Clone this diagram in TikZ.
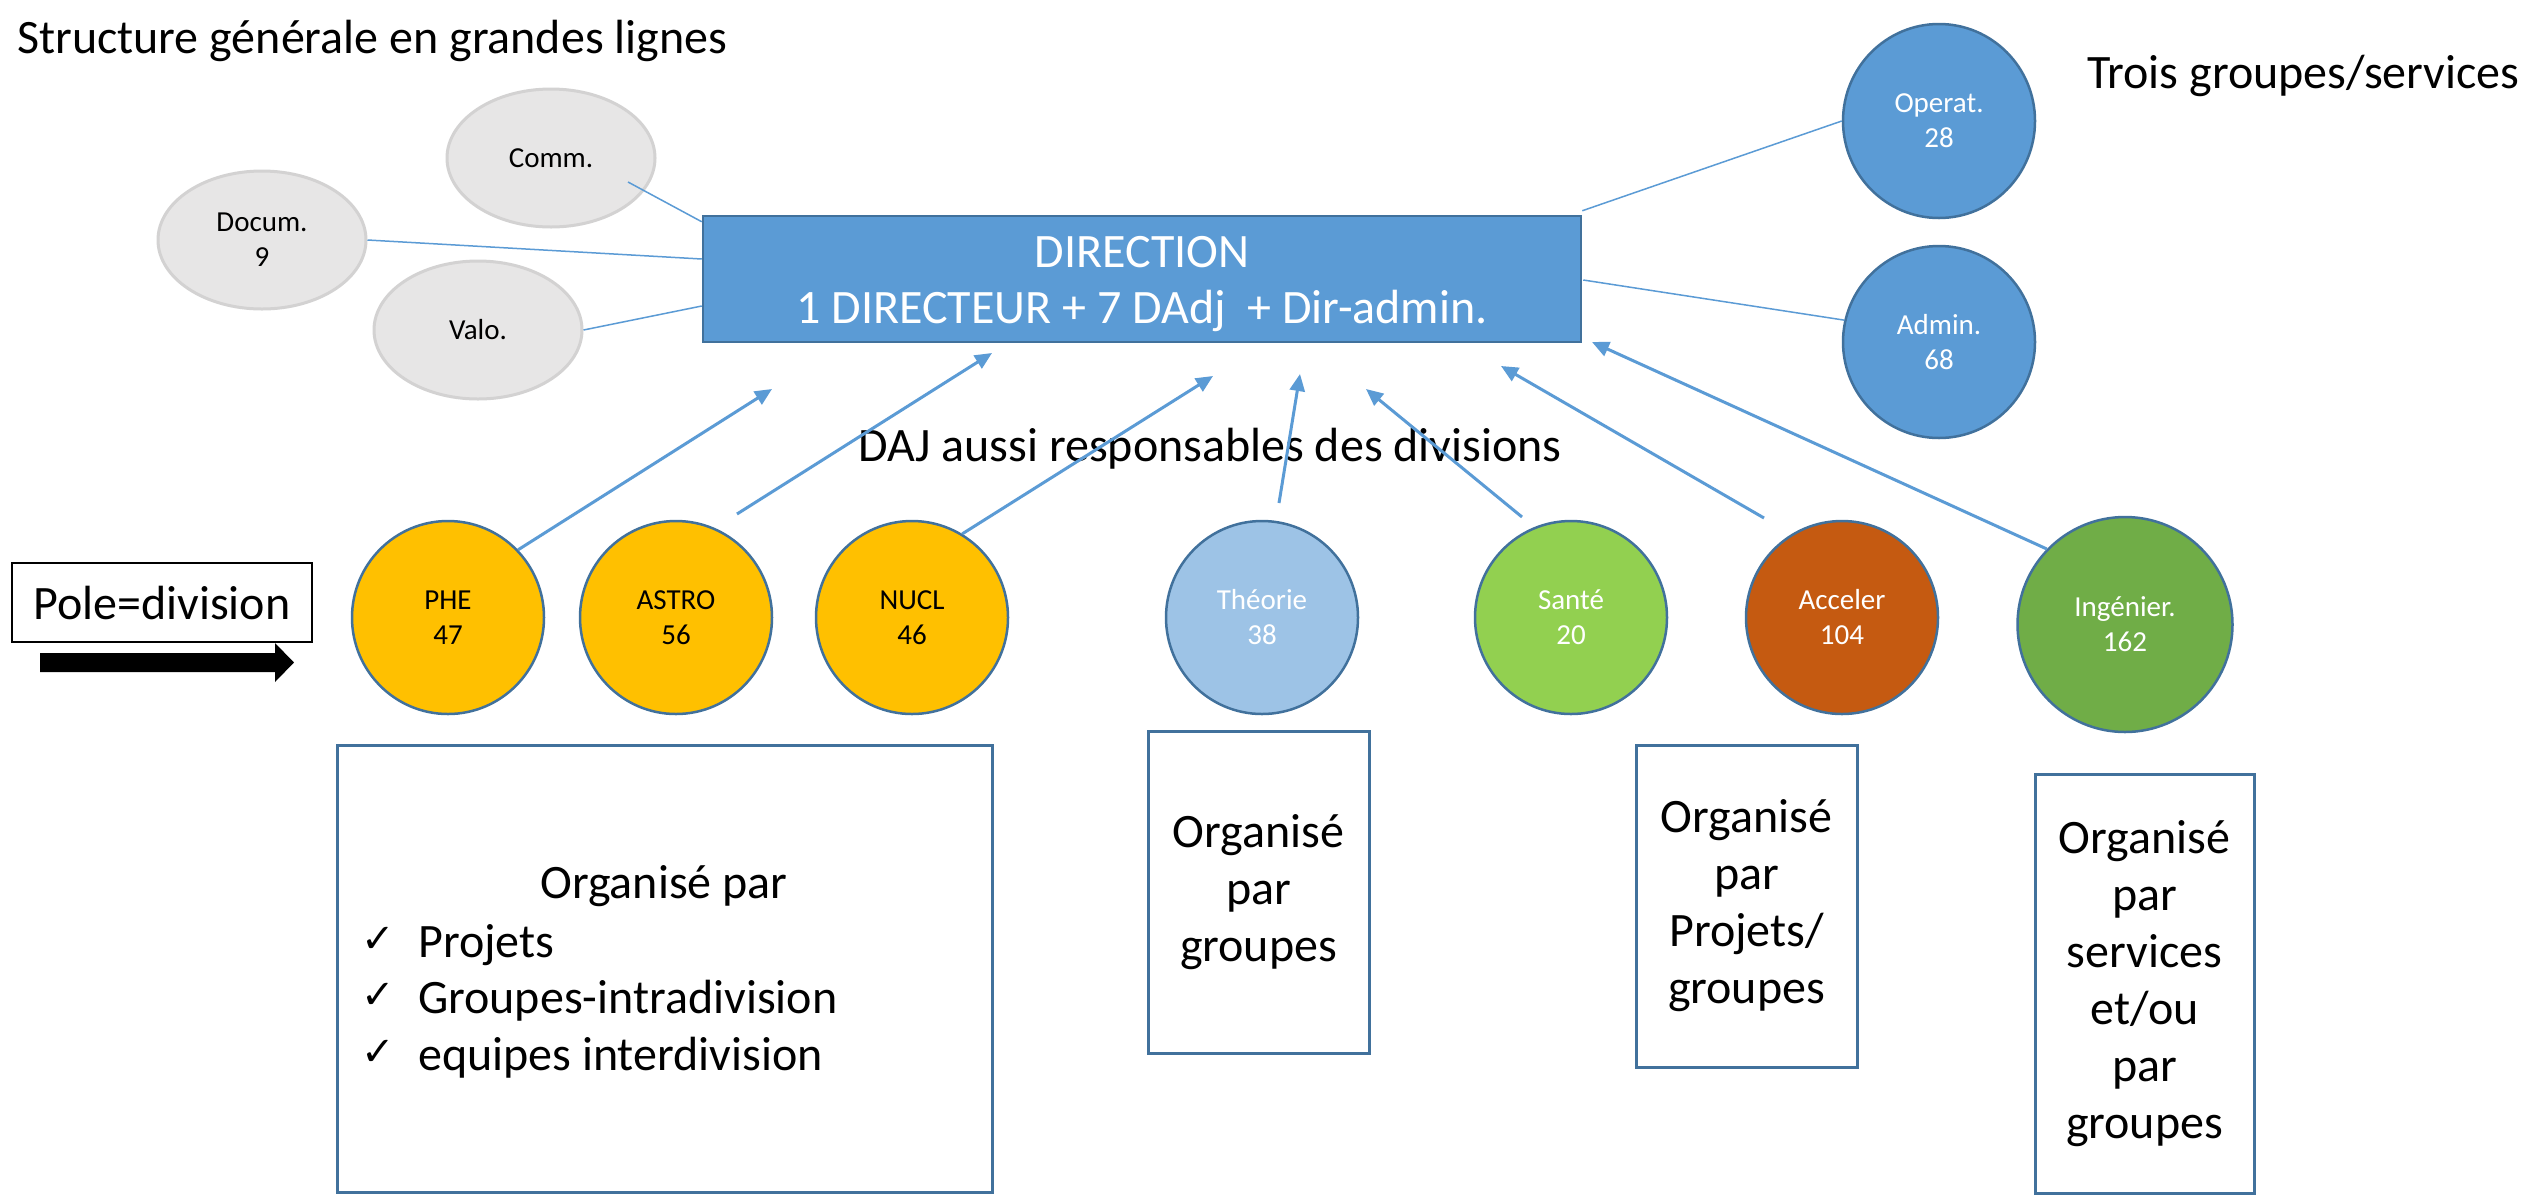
\documentclass[tikz,border=0pt]{standalone}
\usepackage{fontspec}
\setmainfont{Carlito}
\newfontfamily\symbolfont{DejaVu Sans}
\usetikzlibrary{shapes.geometric,arrows.meta,calc}

\definecolor{accentblue}{HTML}{5B9BD5}
\definecolor{outlineblue}{HTML}{41719C}
\definecolor{paleblue}{HTML}{9DC3E6}
\definecolor{lightgreen}{HTML}{92D050}
\definecolor{rust}{HTML}{C55A11}
\definecolor{leafgreen}{HTML}{70AD47}
\definecolor{gold}{HTML}{FFC000}
\definecolor{greyfill}{HTML}{E7E6E6}
\definecolor{greyline}{HTML}{D3D2D2}

\begin{document}
\begin{tikzpicture}[x=1pt,y=-1pt,
  big/.style={font=\fontsize{48}{57}\selectfont},
  small/.style={font=\fontsize{29}{35}\selectfont},
  plain/.style={inner sep=0pt},
  support/.style={ellipse, draw=greyline, fill=greyfill, line width=3pt,
    minimum width=208pt, minimum height=138pt, inner sep=0pt, small, align=center},
  service/.style={ellipse, draw=outlineblue, fill=accentblue, line width=2.5pt,
    minimum width=192pt, minimum height=194pt, inner sep=0pt, small, align=center, text=white},
  division/.style={ellipse, draw=outlineblue, line width=2.5pt,
    minimum width=192pt, minimum height=193pt, inner sep=0pt, small, align=center},
  notebox/.style={rectangle, draw=outlineblue, line width=3pt, fill=white,
    inner sep=0pt, big, align=center},
  tick/.style={inner sep=0pt, anchor=base west, font=\symbolfont\fontsize{40}{40}\selectfont},
  link/.style={draw=accentblue, line width=1.5pt},
  report/.style={draw=accentblue, line width=3pt, -{Triangle[length=17pt,width=15pt]}},
]
\fill[white] (0,0) rectangle (2534,1195);
\useasboundingbox (0,0) rectangle (2534,1195);

% headings
\node[big, plain, anchor=base west] (title) at (17,53) {Structure générale en grandes lignes};
\node[big, plain, anchor=base west] (trois) at (2087,88) {Trois groupes/services};
\node[big, plain, anchor=base] (daj) at (1210,461) {DAJ aussi responsables des divisions};

% support units on the left
\node[support] (comm) at (551,158) {Comm.};
\node[support] (docum) at (262,240) {Docum.\\9};
\node[support] (valo) at (478,330) {Valo.};

% direction
\node[rectangle, draw=outlineblue, fill=accentblue, line width=2.5pt,
  minimum width=878pt, minimum height=126pt, inner sep=0pt] (dir) at (1142,279) {};
\node[big, plain, anchor=base, text=white] (dirhead) at (1142,267) {DIRECTION};
\node[big, plain, anchor=base, text=white] (dirline) at (1142,323) {1 DIRECTEUR + 7 DAdj~ + Dir-admin.};

% services on the right
\node[service] (operat) at (1939,121) {Operat.\\28};
\node[service, minimum height=192pt] (admin) at (1939,342) {Admin.\\68};

% thin links to the direction
\coordinate (commfoot) at ($(comm)+(77,24)$);
\draw[link] (commfoot) -- ($(dir.north west)+(0,7)$);
\draw[link] (docum.east) -- ($(dir.west)+(0,-20)$);
\draw[link] (valo.east) -- ($(dir.west)+(0,27)$);
\draw[link] ($(dir.north east)+(0,-4)$) -- (operat.west);
\draw[link] ($(dir.east)+(1,1)$) -- (admin.167);

% legend
\node[draw=black, line width=2pt, minimum width=300pt, minimum height=79pt,
  big, inner sep=0pt] (pole) at (162,602.5) {Pole=division};
\fill (40,653) -- (275,653) -- (275,643) -- (294,662.5) -- (275,682) -- (275,672) -- (40,672) -- cycle;

% divisions
\node[division, fill=gold] (phe) at (448,617.5) {PHE\\47};
\node[division, fill=gold] (astro) at (676,617.5) {ASTRO\\56};
\node[division, fill=gold] (nucl) at (912,617.5) {NUCL\\46};
\node[division, fill=paleblue, text=white] (theo) at (1262,617.5) {Théorie\\38};
\node[division, fill=lightgreen, text=white] (sante) at (1571,617.5) {Santé\\20};
\node[division, fill=rust, text=white] (accel) at (1842,617.5) {Acceler\\104};
\node[division, fill=leafgreen, text=white, minimum width=215pt, minimum height=215pt]
  (ing) at (2125,624.5) {Ingénier.\\162};

% reporting arrows towards the direction
\coordinate (astrofoot) at (737,514);
\coordinate (theofoot) at (1279,503);
\coordinate (santefoot) at (1522,517);
\coordinate (accelfoot) at (1764,518);
\coordinate (tipphe) at (772,389);
\coordinate (tipastro) at (992,353);
\coordinate (tipnucl) at (1213,376);
\coordinate (tiptheo) at (1300,374);
\coordinate (tipsante) at (1366,389);
\coordinate (tipaccel) at (1501,366);
\coordinate (tiping) at (1592,342);
\draw[report] (phe.44) -- (tipphe);
\draw[report] (astrofoot) -- (tipastro);
\draw[report] (nucl.59) -- (tipnucl);
\draw[report] (theofoot) -- (tiptheo);
\draw[report] (santefoot) -- (tipsante);
\draw[report] (accelfoot) -- (tipaccel);
\draw[report] (ing.136) -- (tiping);

% organisation notes
\node[notebox, minimum width=655pt, minimum height=447pt] (notegold) at (664.5,968.5) {};
\node[big, plain, anchor=base] (orgpar) at (664,898) {Organisé par};
\node[tick] (tick1) at (361,952) {✓};
\node[tick] (tick2) at (361,1008) {✓};
\node[tick] (tick3) at (361,1065) {✓};
\node[big, plain, anchor=base west] (item1) at (418,957) {Projets};
\node[big, plain, anchor=base west] (item2) at (418,1013) {Groupes-intradivision};
\node[big, plain, anchor=base west] (item3) at (418,1070) {equipes interdivision};

\node[notebox, minimum width=221pt, minimum height=322pt] (notetheo) at (1258.5,892)
  {Organisé\\par\\groupes};
\node[notebox, minimum width=221pt, minimum height=322pt] (noteacc) at (1746.5,906)
  {Organisé\\par\\Projets/\\groupes};
\node[notebox, minimum width=219pt, minimum height=419pt] (noteing) at (2144.5,983.5)
  {Organisé\\par\\services\\et/ou\\par\\groupes};
\end{tikzpicture}
\end{document}
